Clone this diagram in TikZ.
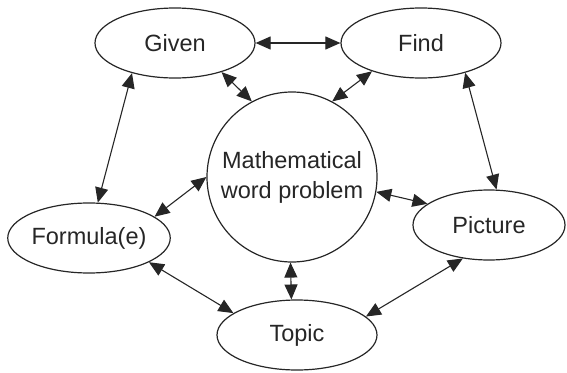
\documentclass[tikz,border=0pt]{standalone}
\usepackage{fontspec}
\setmainfont{Liberation Sans}
\usetikzlibrary{arrows.meta,shapes.geometric}
\begin{document}
\begin{tikzpicture}[x=1pt,y=-1pt,
  every node/.style={font=\fontsize{23.5}{30}\selectfont, text=black!85},
  oval/.style={ellipse, draw=black!85, line width=1.2pt, inner sep=0pt,
    minimum width=160pt, minimum height=70pt},
  hub/.style={circle, draw=black!85, line width=1.2pt, inner sep=0pt,
    minimum size=170pt, align=center},
  link/.style={draw=black!85, line width=1.1pt,
    {Triangle[length=15pt,width=13pt]}-{Triangle[length=15pt,width=13pt]}}]
  \useasboundingbox (0,0) rectangle (567,372);

  % nodes
  \node[hub] (wp) at (292,177) {Mathematical\\word problem};
  \node[oval] (given) at (175,43) {Given};
  \node[oval] (find) at (421,43) {Find};
  \node[oval] (formula) at (89,238) {Formula(e)};
  \node[oval, minimum width=152pt] (picture) at (489,225) {Picture};
  \node[oval] (topic) at (297,335) {Topic};

  % connections
  \draw[link] (given.east) -- (find.west);
  \draw[link] (given.-32) -- (wp.118);
  \draw[link] (find.-150) -- (wp.62);
  \draw[link] (given.-145) -- (formula.76);
  \draw[link] (find.-34) -- (picture.78);
  \draw[link] (wp.180) -- (formula.18);
  \draw[link] (wp.-10) -- (picture.161);
  \draw[link] (wp.-91) -- (topic.99);
  \draw[link] (formula.-22) -- (topic.161);
  \draw[link] (picture.-128) -- (topic.15);
\end{tikzpicture}
\end{document}
